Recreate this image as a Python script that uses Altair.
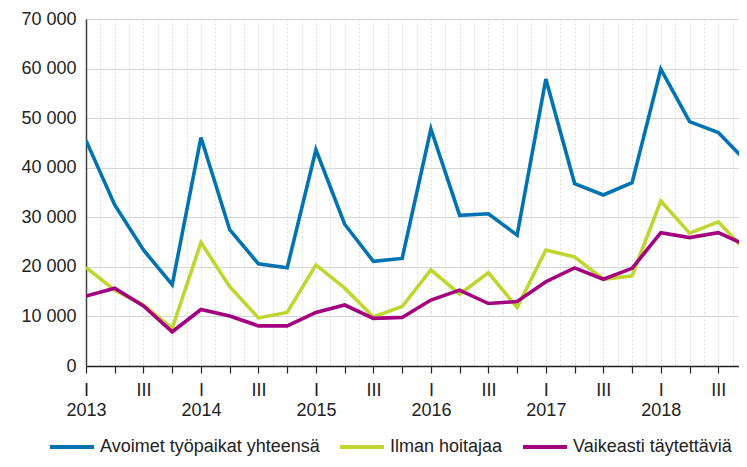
import altair as alt
import pandas as pd

# ---- data ----
quarters = list(range(24))  # 2013 Q1 ... 2018 Q4
years = ["2013", "2014", "2015", "2016", "2017", "2018"]
quarter_labels = ["I", "", "III", ""]
series_names = ["Avoimet työpaikat yhteensä", "Ilman hoitajaa", "Vaikeasti täytettäviä"]
series_colors = ["#0073b0", "#bfd630", "#a3007f"]

total = [45500, 32500, 23400, 16400, 46100, 27500, 20600, 19800,
         43600, 28600, 21100, 21700, 47800, 30400, 30700, 26400,
         57900, 36800, 34500, 37000, 59900, 49300, 47100, 41100]
ilman = [19900, 15300, 12300, 7600, 24900, 16000, 9700, 10800,
         20400, 15700, 9900, 12000, 19400, 14500, 18800, 11800,
         23400, 22000, 17500, 18200, 33300, 26800, 29100, 23000]
vaikeasti = [14100, 15700, 12100, 6900, 11400, 10100, 8100, 8100,
             10800, 12300, 9600, 9800, 13300, 15300, 12600, 13000,
             17000, 19800, 17500, 19700, 26900, 25900, 26900, 24300]

y_ticks = [0, 10000, 20000, 30000, 40000, 50000, 60000, 70000]

rows = []
for name, vals in zip(series_names, [total, ilman, vaikeasti]):
    for t, v in zip(quarters, vals):
        rows.append({"t": t, "value": v, "series": name})
df = pd.DataFrame(rows)

FONT = "Liberation Sans, Arial, sans-serif"
TXT = "#222222"
# the reference's plot area is cut at its right edge, just before 2018 Q4
X_MAX = 22.72
xscale = alt.Scale(domain=[0, X_MAX], nice=False, zero=False)
yscale = alt.Scale(domain=[0, 70000], nice=False, zero=True)

grid_vals = [i / 2 for i in range(46)]
tick_vals = [q for q in quarters if q <= X_MAX]
year_vals = [i * 4 for i in range(len(years))]

q_expr = "[" + ",".join("'%s'" % s for s in quarter_labels) + "][datum.value % 4]"
y_expr = "[" + ",".join("'%s'" % s for s in years) + "][floor(datum.value / 4)]"

lines = alt.Chart(df).mark_line(strokeWidth=3.6, clip=True).encode(
    x=alt.X("t:Q", scale=xscale, title=None,
            axis=alt.Axis(orient="bottom", values=grid_vals, grid=True,
                          gridColor="#dedede", gridDash=[2, 2], gridWidth=1,
                          labels=False, ticks=False, domain=False)),
    y=alt.Y("value:Q", scale=yscale, title=None,
            axis=alt.Axis(values=y_ticks, grid=True, gridColor="#d6d6d6",
                          gridWidth=1, ticks=False, domain=True,
                          domainColor="#404040", domainWidth=1.5,
                          labelExpr="replace(format(datum.value, ','), ',', ' ')",
                          labelFont=FONT, labelFontSize=18, labelColor=TXT,
                          labelPadding=10)),
    color=alt.Color("series:N",
                    scale=alt.Scale(domain=series_names, range=series_colors),
                    legend=alt.Legend(orient="none", legendX=-38, legendY=404,
                                      direction="horizontal", title=None,
                                      symbolType="stroke", symbolSize=1936,
                                      symbolStrokeWidth=4, labelFont=FONT,
                                      labelFontSize=18, labelColor=TXT,
                                      labelLimit=400, columnPadding=12,
                                      labelOffset=4)),
)

tick_layer = alt.Chart(df).mark_point(opacity=0, clip=True).encode(
    x=alt.X("t:Q", scale=xscale, title=None,
            axis=alt.Axis(orient="bottom", values=tick_vals, grid=False,
                          ticks=True, tickSize=7, tickColor=TXT, tickWidth=1.2,
                          domain=True, domainColor=TXT, domainWidth=1.5,
                          labelExpr=q_expr, labelFont=FONT, labelFontSize=18,
                          labelColor=TXT, labelPadding=8, labelFlush=False,
                          labelOverlap=False)),
    y=alt.value(0),
)

year_layer = alt.Chart(df).mark_point(opacity=0, clip=True).encode(
    x=alt.X("t:Q", scale=xscale, title=None,
            axis=alt.Axis(orient="bottom", values=year_vals, grid=False,
                          ticks=False, domain=False,
                          labelExpr=y_expr, labelFont=FONT, labelFontSize=18,
                          labelColor=TXT, labelPadding=35, labelFlush=False,
                          labelOverlap=False)),
    y=alt.value(0),
)

chart = alt.layer(lines, tick_layer, year_layer).resolve_axis(
    x="independent"
).properties(
    width=653, height=347,
    autosize=alt.AutoSizeParams(type="none"),
    padding={"left": 78, "top": 11, "right": 0, "bottom": 93},
).configure_view(stroke=None)

chart.save("out.html", embed_options={"renderer": "svg", "actions": False})
